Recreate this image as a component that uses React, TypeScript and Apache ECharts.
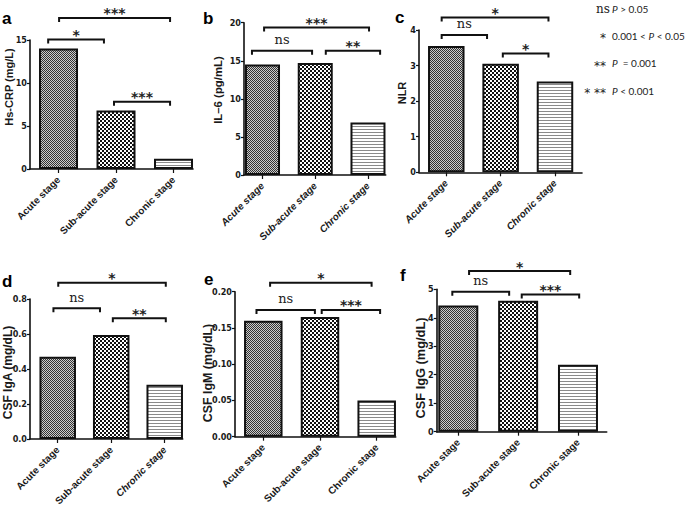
import React, { useEffect, useRef } from 'react';
import * as echarts from 'echarts';

// ---------- data ----------
const categories = ['Acute stage', 'Sub-acute stage', 'Chronic stage'];

const hsCrp = [14.0, 6.8, 1.2];
const il6 = [14.5, 14.7, 6.9];
const nlr = [3.55, 3.05, 2.55];
const csfIgA = [0.47, 0.595, 0.31];
const csfIgM = [0.16, 0.165, 0.05];
const csfIgG = [4.43, 4.6, 2.35];

// y-axis tick settings [max, step, decimals]
const yTicksA = [15, 5, 0];
const yTicksB = [20, 5, 0];
const yTicksC = [4, 1, 0];
const yTicksD = [0.8, 0.2, 1];
const yTicksE = [0.2, 0.05, 2];
const yTicksF = [5, 1, 0];

// significance brackets: [from category, to category, level (y value), label]
const bracketsA: [number, number, number, string][] = [
  [0.01, 1.94, 17.56, '***'],
  [-0.18, 0.79, 15.06, '*'],
  [0.965, 1.94, 7.83, '***'],
];
const bracketsB: [number, number, number, string][] = [
  [0.03, 2.02, 19.38, '***'],
  [-0.2, 0.94, 16.31, 'ns'],
  [1.2, 2.23, 16.31, '**'],
];
const bracketsC: [number, number, number, string][] = [
  [-0.085, 1.88, 4.35, '*'],
  [-0.085, 0.75, 3.86, 'ns'],
  [1.04, 1.88, 3.34, '*'],
];
const bracketsD: [number, number, number, string][] = [
  [0.01, 2.02, 0.893, '*'],
  [-0.08, 0.79, 0.747, 'ns'],
  [1.03, 2.02, 0.69, '**'],
];
const bracketsE: [number, number, number, string][] = [
  [0.12, 1.91, 0.2124, '*'],
  [-0.12, 0.91, 0.1748, 'ns'],
  [1.03, 2.06, 0.1748, '***'],
];
const bracketsF: [number, number, number, string][] = [
  [0.18, 1.87, 5.64, '*'],
  [-0.1, 0.85, 4.91, 'ns'],
  [1.06, 2.02, 4.82, '***'],
];

const legendRows: [string, string][] = [
  ['ns', '{i|P} > 0.05'],
  ['*', '0.001 < {i|P} < 0.05'],
  ['**', '{i|P}  = 0.001'],
  ['* **', '{i|P} < 0.001'],
];

// ---------- layout ----------
const panels = [
  { letter: 'a', title: 'Hs-CRP (mg/L)', values: hsCrp, brackets: bracketsA, ticks: yTicksA,
    grid: { left: 30, top: 40, width: 163, height: 129 }, xMin: -0.496, xMax: 2.339, barWidth: 39,
    titlePos: [9, 87], titleSize: 11, letterPos: [2, 18], italic: false },
  { letter: 'b', title: 'IL–6 (pg/mL)', values: il6, brackets: bracketsB, ticks: yTicksB,
    grid: { left: 244, top: 22.7, width: 141.7, height: 152.3 }, xMin: -0.351, xMax: 2.336, barWidth: 35,
    titlePos: [217.5, 90], titleSize: 11.4, letterPos: [203, 18], italic: true },
  { letter: 'c', title: 'NLR', values: nlr, brackets: bracketsC, ticks: yTicksC,
    grid: { left: 419, top: 30, width: 163, height: 142.3 }, xMin: -0.502, xMax: 2.497, barWidth: 36.5,
    titlePos: [402, 93], titleSize: 11, letterPos: [395, 17.5], italic: true },
  { letter: 'd', title: 'CSF IgA (mg/dL)', values: csfIgA, brackets: bracketsD, ticks: yTicksD,
    grid: { left: 30, top: 299, width: 152.7, height: 140 }, xMin: -0.518, xMax: 2.336, barWidth: 36.5,
    titlePos: [8, 372.5], titleSize: 12, letterPos: [2, 281], italic: false },
  { letter: 'e', title: 'CSF IgM (mg/dL)', values: csfIgM, brackets: bracketsE, ticks: yTicksE,
    grid: { left: 235, top: 291.7, width: 160.7, height: 145 }, xMin: -0.499, xMax: 2.335, barWidth: 38.5,
    titlePos: [208, 373], titleSize: 12.4, letterPos: [204, 279], italic: false },
  { letter: 'f', title: 'CSF IgG (mg/dL)', values: csfIgG, brackets: bracketsF, ticks: yTicksF,
    grid: { left: 436.7, top: 289.3, width: 170, height: 142.4 }, xMin: -0.361, xMax: 2.48, barWidth: 40,
    titlePos: [420.5, 368], titleSize: 12.8, letterPos: [400, 275], italic: false },
];

function makePattern(kind: number) {
  const c = document.createElement('canvas');
  const ctx = c.getContext('2d')!;
  if (kind === 0) {
    c.width = 2; c.height = 2;
    ctx.fillStyle = '#cccccc'; ctx.fillRect(0, 0, 2, 2);
    ctx.fillStyle = '#333333'; ctx.fillRect(0, 0, 1, 1); ctx.fillRect(1, 1, 1, 1);
  } else if (kind === 1) {
    c.width = 4; c.height = 4;
    ctx.fillStyle = '#ffffff'; ctx.fillRect(0, 0, 4, 4);
    ctx.fillStyle = '#111111'; ctx.fillRect(0, 0, 2, 2); ctx.fillRect(2, 2, 2, 2);
  } else {
    c.width = 3; c.height = 3;
    ctx.fillStyle = '#ffffff'; ctx.fillRect(0, 0, 3, 3);
    ctx.fillStyle = '#8a8a8a'; ctx.fillRect(0, 0, 3, 1);
  }
  return { image: c, repeat: 'repeat', imageWidth: c.width, imageHeight: c.height } as any;
}

export default function App() {
  const ref = useRef<HTMLDivElement>(null);
  useEffect(() => {
    if (!ref.current) return;
    const chart = echarts.init(ref.current, null, { renderer: 'svg' });
    const patterns = [makePattern(0), makePattern(1), makePattern(2)];

    const grids: any[] = [];
    const xAxes: any[] = [];
    const yAxes: any[] = [];
    const series: any[] = [];
    const graphics: any[] = [];

    panels.forEach((p, i) => {
      grids.push({ ...p.grid, containLabel: false, outerBoundsMode: 'none' });
      xAxes.push({
        type: 'value', gridIndex: i, min: p.xMin, max: p.xMax,
        axisLine: { show: true, onZero: false, lineStyle: { color: '#111', width: 1.6 } },
        axisTick: { show: true, customValues: [0, 1, 2], length: 4, lineStyle: { color: '#111', width: 1.2 } },
        axisLabel: {
          customValues: [0, 1, 2], rotate: 45, margin: 9,
          formatter: (v: number) => {
            const name = categories[Math.round(v)];
            return (p.letter === 'd' && Math.round(v) === 2) ? '{it|' + name + '}' : name;
          },
          fontFamily: 'Liberation Sans, Arial, sans-serif', fontSize: 10, fontWeight: 'bold',
          fontStyle: p.italic ? 'italic' : 'normal', color: '#1a1a1a',
          rich: { it: { fontStyle: 'italic', fontWeight: 'bold', fontSize: 10, fontFamily: 'Liberation Sans, Arial, sans-serif', color: '#1a1a1a' } },
        },
        splitLine: { show: false },
      });
      yAxes.push({
        type: 'value', gridIndex: i, min: 0, max: p.ticks[0], interval: p.ticks[1],
        axisLine: { show: true, onZero: false, lineStyle: { color: '#111', width: 1.6 } },
        axisTick: { show: true, length: 3, lineStyle: { color: '#111', width: 1.2 } },
        axisLabel: {
          margin: 3, fontSize: 9, fontWeight: 'bold', color: '#1a1a1a',
          fontFamily: "'Liberation Sans Narrow', 'DejaVu Sans Condensed', sans-serif",
          formatter: (v: number) => v.toFixed(p.ticks[2]),
        },
        splitLine: { show: false },
      });
      series.push({
        type: 'bar', xAxisIndex: i, yAxisIndex: i, barWidth: p.barWidth,
        data: p.values.map((v, k) => ({
          value: [k, v],
          itemStyle: { color: patterns[k], borderColor: '#111', borderWidth: 2 },
        })),
      });
      const labels = p.brackets.map((b) => b[3]);
      series.push({
        type: 'custom', xAxisIndex: i, yAxisIndex: i, clip: false, silent: true,
        encode: { x: [0, 1], y: 2 },
        data: p.brackets.map((b) => [b[0], b[1], b[2]]),
        renderItem: (params: any, api: any) => {
          const x1 = api.value(0), x2 = api.value(1), y = api.value(2);
          const p1 = api.coord([x1, y]);
          const p2 = api.coord([x2, y]);
          const lab = labels[params.dataIndex];
          const isNs = lab === 'ns';
          return {
            type: 'group',
            children: [
              {
                type: 'polyline',
                shape: { points: [[p1[0], p1[1] + 4], [p1[0], p1[1]], [p2[0], p2[1]], [p2[0], p2[1] + 4]] },
                style: { stroke: '#111', lineWidth: 2, fill: null },
              },
              {
                type: 'text',
                x: (p1[0] + p2[0]) / 2,
                y: p1[1] - (isNs ? 11 : 4.5),
                style: {
                  text: lab, align: 'center', verticalAlign: 'middle',
                  fontFamily: isNs ? 'DejaVu Serif, serif' : 'DejaVu Sans, sans-serif',
                  fontWeight: isNs ? 'normal' : 'bold',
                  fontSize: isNs ? 13 : 14, fill: '#222',
                },
              },
            ],
          };
        },
      });
      graphics.push({
        type: 'text', x: p.titlePos[0], y: p.titlePos[1], rotation: Math.PI / 2,
        style: {
          text: p.title, align: 'center', verticalAlign: 'middle',
          fontFamily: 'Liberation Sans, Arial, sans-serif', fontWeight: 'bold', fontSize: p.titleSize, fill: '#1a1a1a',
        },
      });
      graphics.push({
        type: 'text', x: p.letterPos[0], y: p.letterPos[1],
        style: {
          text: p.letter, align: 'left', verticalAlign: 'middle',
          fontFamily: 'Liberation Sans, Arial, sans-serif', fontWeight: 'bold', fontSize: 17, fill: '#000',
        },
      });
    });

    const legendY = [9.3, 35.7, 63.3, 90.7];
    legendRows.forEach((row, r) => {
      const isNs = row[0] === 'ns';
      graphics.push({
        type: 'text', x: isNs ? 610 : 606, y: legendY[r] + (isNs ? -0.5 : 2.5),
        style: {
          text: row[0], align: 'right', verticalAlign: 'middle',
          fontFamily: isNs ? 'DejaVu Serif, serif' : 'DejaVu Sans, sans-serif',
          fontSize: 12, fill: '#222',
        },
      });
      graphics.push({
        type: 'text', x: 612, y: legendY[r],
        style: {
          text: row[1], align: 'left', verticalAlign: 'middle',
          fontFamily: 'Lato, sans-serif', fontSize: 10, fill: '#222',
          rich: { i: { fontStyle: 'italic', fontFamily: 'Lato, sans-serif', fontSize: 10, fill: '#222' } },
        },
      });
    });

    chart.setOption({
      animation: false,
      backgroundColor: '#ffffff',
      grid: grids,
      xAxis: xAxes,
      yAxis: yAxes,
      series,
      graphic: graphics,
    });
    return () => chart.dispose();
  }, []);
  return <div ref={ref} style={{ position: 'fixed', left: 0, top: 0, width: 685, height: 513 }} />;
}
